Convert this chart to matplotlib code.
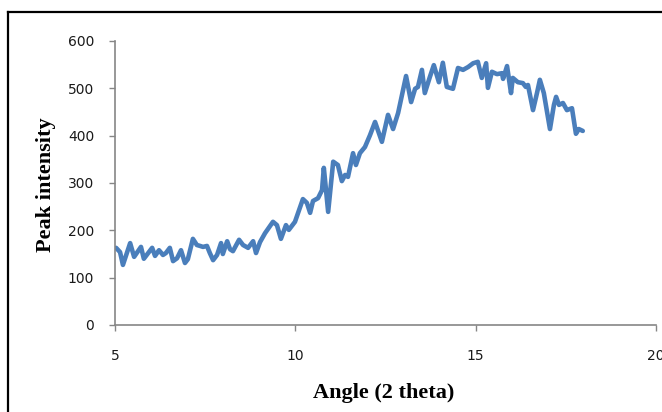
import matplotlib
matplotlib.use("Agg")
import matplotlib.pyplot as plt
from matplotlib.lines import Line2D

# diffraction scan: angle (2 theta) vs peak intensity
angle = [5.03, 5.14, 5.22, 5.42, 5.53, 5.72, 5.80, 6.03, 6.11, 6.22, 6.33, 6.41,
         6.52, 6.61, 6.72, 6.83, 6.94, 7.02, 7.16, 7.27, 7.36, 7.44, 7.55, 7.63,
         7.72, 7.83, 7.94, 7.99, 8.11, 8.19, 8.27, 8.44, 8.55, 8.69, 8.83, 8.91,
         9.02, 9.16, 9.38, 9.49, 9.60, 9.74, 9.82, 9.99, 10.21, 10.32, 10.41,
         10.49, 10.63, 10.74, 10.79, 10.91, 11.05, 11.18, 11.29, 11.38, 11.46,
         11.60, 11.68, 11.79, 11.93, 12.07, 12.21, 12.40, 12.57, 12.71, 12.85,
         13.07, 13.21, 13.32, 13.40, 13.51, 13.59, 13.73, 13.84, 13.98, 14.09,
         14.20, 14.37, 14.51, 14.65, 14.79, 14.93, 15.06, 15.17, 15.29, 15.34,
         15.45, 15.59, 15.73, 15.76, 15.87, 15.98, 16.03, 16.17, 16.31, 16.39,
         16.45, 16.59, 16.70, 16.78, 16.89, 17.06, 17.17, 17.23, 17.31, 17.42,
         17.53, 17.67, 17.78, 17.86, 17.97]
intensity = [163, 154, 127, 173, 144, 165, 140, 163, 146, 158, 148, 152,
             163, 135, 141, 158, 131, 139, 182, 169, 167, 165, 167, 152,
             137, 148, 173, 150, 177, 160, 156, 180, 169, 163, 177, 152,
             175, 194, 218, 211, 182, 211, 201, 218, 266, 258, 237,
             262, 268, 285, 332, 239, 345, 338, 304, 317, 313,
             363, 338, 363, 376, 401, 429, 387, 444, 414, 448,
             526, 471, 499, 503, 539, 490, 524, 549, 513, 554,
             503, 499, 543, 539, 545, 553, 556, 522, 553, 501,
             535, 530, 532, 520, 547, 490, 522, 513, 511, 503,
             507, 454, 490, 518, 490, 414, 465, 482, 465, 469,
             454, 458, 404, 414, 410]

fig = plt.figure(figsize=(6.62, 4.12), dpi=100)
ax = fig.add_axes([115 / 662, 1 - 325 / 412, (656 - 115) / 662, (325 - 41) / 412])

ax.plot(angle, intensity, color="#4a7ebb", lw=3.3,
        solid_joinstyle="round", solid_capstyle="round")

ax.set_xlim(5, 20)
ax.set_ylim(0, 600)
ax.set_xticks([5, 10, 15, 20])
ax.set_yticks(range(0, 601, 100))

for side in ("top", "right"):
    ax.spines[side].set_visible(False)
for side in ("left", "bottom"):
    ax.spines[side].set_color("#868686")
    ax.spines[side].set_linewidth(1.2)

ax.tick_params(axis="both", direction="out", length=4, width=1,
               color="#868686", labelsize=10, labelcolor="#1a1a1a")
ax.tick_params(axis="x", pad=13)
ax.tick_params(axis="y", pad=11)

# axis titles placed in figure coordinates
fig.text(384 / 662, 1 - 393 / 412, "Angle (2 theta)", family="Liberation Serif",
         fontweight="bold", fontsize=16, ha="center", va="center")
fig.text(46 / 662, 1 - 185 / 412, "Peak intensity", family="Liberation Serif",
         fontweight="bold", fontsize=16, ha="center", va="center", rotation=90)

# outer frame, cut off at right and bottom
fig.add_artist(Line2D([8 / 662, 8 / 662], [0, 1 - 12 / 412],
                      transform=fig.transFigure, color="black", lw=1.6))
fig.add_artist(Line2D([8 / 662, 1], [1 - 12 / 412, 1 - 12 / 412],
                      transform=fig.transFigure, color="black", lw=1.6))

fig.savefig("out.png", dpi=100)
